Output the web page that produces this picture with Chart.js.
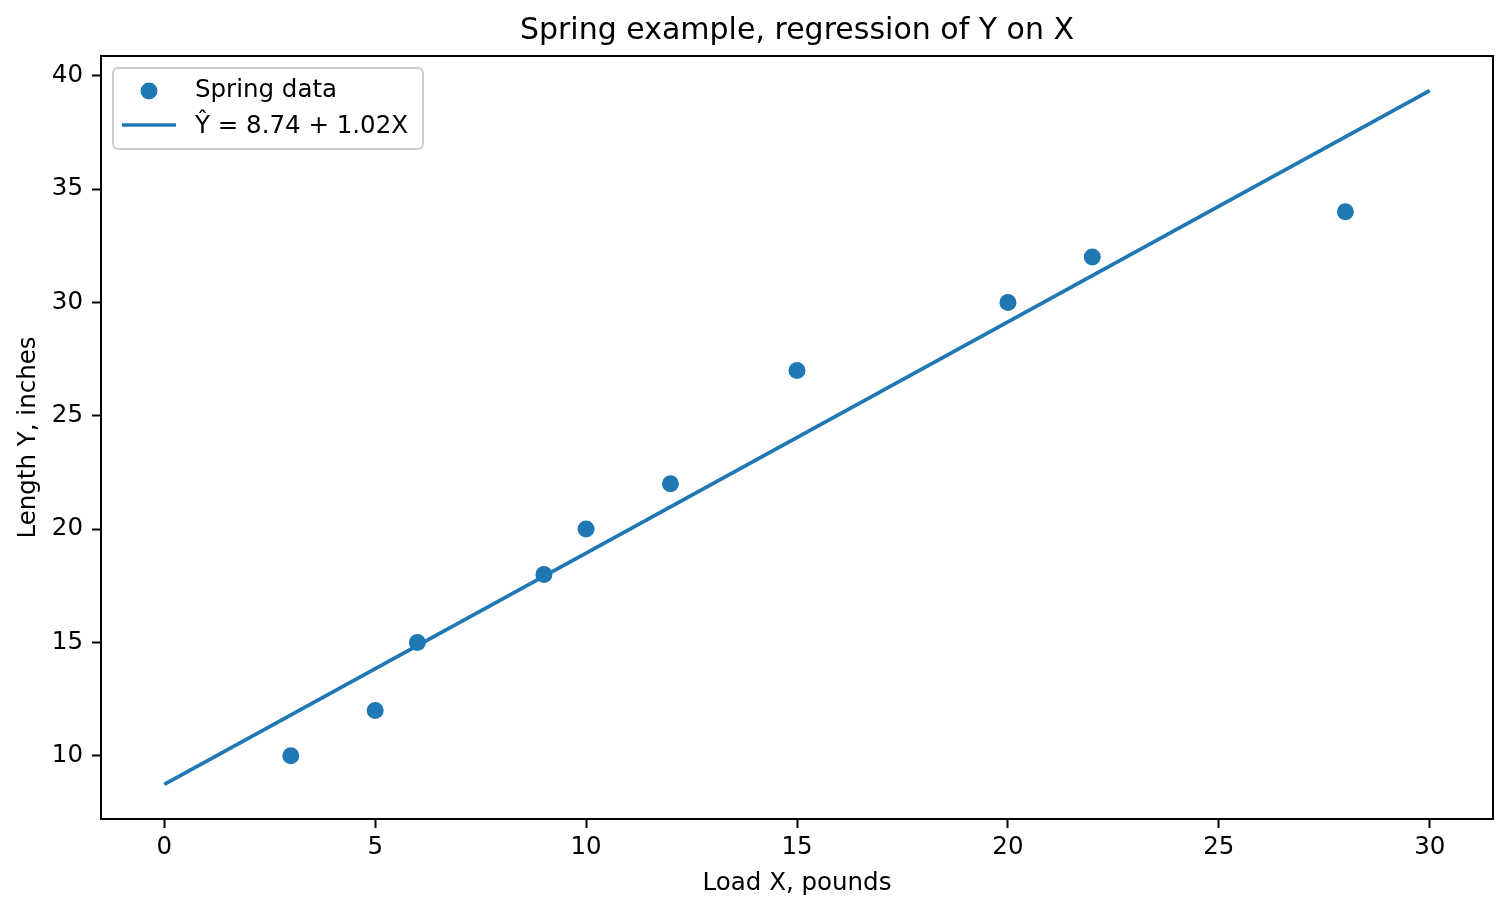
<!DOCTYPE html>
<html>
<head>
<meta charset="utf-8">
<title>Spring example</title>
<script src="https://cdn.jsdelivr.net/npm/chart.js@4.4.1/dist/chart.umd.min.js"></script>
<style>
    html, body { margin: 0; padding: 0; background: #ffffff; }
    #wrap { width: 1510px; height: 913px; }
</style>
</head>
<body>
<div id="wrap"><canvas id="springChart" width="1510" height="913"></canvas></div>
<script>
// =============================================
// Data
// =============================================

var loadX = [3, 5, 6, 9, 10, 12, 15, 20, 22, 28];
var lengthY = [10, 12, 15, 18, 20, 22, 27, 30, 32, 34];

// fitted line end points, Y = 8.74 + 1.02X
var fitX = [0, 30];
var fitY = [8.74, 39.34];

var xTickValues = [0, 5, 10, 15, 20, 25, 30];
var yTickValues = [10, 15, 20, 25, 30, 35, 40];

var chartTitle = "Spring example, regression of Y on X";
var xTitle = "Load X, pounds";
var yTitle = "Length Y, inches";
var scatterLabel = "Spring data";
var fitLabel = "Ŷ = 8.74 + 1.02X";

var blue = "#1f77b4";
var fontFamily = "'DejaVu Sans', sans-serif";

// =============================================
// Helpers
// =============================================

function toPoints(xs, ys) {
    var pts = [];
    for (var i = 0; i < xs.length; i++) {
        pts.push({ x: xs[i], y: ys[i] });
    }
    return pts;
}

function fixedTicks(values) {
    return function(scale) {
        scale.ticks = values.map(function(v) {
            return { value: v };
        });
    };
}

// frame, title and legend drawn the matplotlib way
var framePlugin = {
    id: "frame",
    afterDraw: function(chart) {
        var ctx = chart.ctx;
        var a = chart.chartArea;
        ctx.save();

        // axes box
        ctx.strokeStyle = "#000000";
        ctx.lineWidth = 2;
        ctx.strokeRect(a.left, a.top, a.right - a.left, a.bottom - a.top);

        // title
        ctx.fillStyle = "#000000";
        ctx.font = "30px " + fontFamily;
        ctx.textAlign = "center";
        ctx.textBaseline = "alphabetic";
        ctx.fillText(chartTitle, (a.left + a.right) / 2, 39);

        // legend box
        var bx = 113, by = 68, bw = 310, bh = 81, r = 5;
        ctx.beginPath();
        ctx.moveTo(bx + r, by);
        ctx.arcTo(bx + bw, by, bx + bw, by + bh, r);
        ctx.arcTo(bx + bw, by + bh, bx, by + bh, r);
        ctx.arcTo(bx, by + bh, bx, by, r);
        ctx.arcTo(bx, by, bx + bw, by, r);
        ctx.closePath();
        ctx.fillStyle = "rgba(255,255,255,0.8)";
        ctx.fill();
        ctx.strokeStyle = "#cccccc";
        ctx.lineWidth = 2;
        ctx.stroke();

        // legend marker
        ctx.beginPath();
        ctx.arc(149, 91, 8.5, 0, Math.PI * 2);
        ctx.fillStyle = blue;
        ctx.fill();

        // legend line
        ctx.beginPath();
        ctx.moveTo(122, 125);
        ctx.lineTo(176, 125);
        ctx.strokeStyle = blue;
        ctx.lineWidth = 3.7;
        ctx.stroke();

        // legend labels
        ctx.fillStyle = "#000000";
        ctx.font = "24.5px " + fontFamily;
        ctx.textAlign = "left";
        ctx.fillText(chart.data.datasets[1].label, 195, 97);
        ctx.fillText(chart.data.datasets[0].label, 195, 133);

        ctx.restore();
    }
};

// =============================================
// Chart
// =============================================

Chart.defaults.color = "#000000";
Chart.defaults.font.family = fontFamily;

var tickFont = { family: fontFamily, size: 24.5 };

new Chart(document.getElementById("springChart"), {
    type: "scatter",
    data: {
        datasets: [{
                type: "line",
                label: fitLabel,
                data: toPoints(fitX, fitY),
                borderColor: blue,
                borderWidth: 3.7,
                pointRadius: 0,
                fill: false,
                tension: 0,
            },
            {
                type: "scatter",
                label: scatterLabel,
                data: toPoints(loadX, lengthY),
                backgroundColor: blue,
                borderColor: blue,
                borderWidth: 0,
                pointRadius: 8.5,
                pointHoverRadius: 8.5,
            },
        ],
    },
    options: {
        responsive: false,
        animation: false,
        events: [],
        layout: { padding: { left: 0, right: 17, top: 56, bottom: 0 } },
        plugins: {
            legend: { display: false },
            title: { display: false },
            tooltip: { enabled: false },
        },
        scales: {
            x: {
                type: "linear",
                min: -1.5,
                max: 31.5,
                afterBuildTicks: fixedTicks(xTickValues),
                afterFit: function(scale) {
                    scale.height = 94;
                },
                border: { display: false },
                grid: {
                    drawOnChartArea: false,
                    drawTicks: true,
                    tickLength: 9,
                    tickColor: "#000000",
                    tickWidth: 2,
                },
                ticks: {
                    font: tickFont,
                    color: "#000000",
                    padding: 5,
                    maxRotation: 0,
                },
                title: {
                    display: true,
                    text: xTitle,
                    font: tickFont,
                    color: "#000000",
                    padding: { top: 0, bottom: 15 },
                },
            },
            y: {
                type: "linear",
                min: 7.21,
                max: 40.87,
                afterBuildTicks: fixedTicks(yTickValues),
                afterFit: function(scale) {
                    scale.width = 101;
                },
                border: { display: false },
                grid: {
                    drawOnChartArea: false,
                    drawTicks: true,
                    tickLength: 9,
                    tickColor: "#000000",
                    tickWidth: 2,
                },
                ticks: {
                    font: tickFont,
                    color: "#000000",
                    padding: 9,
                },
                title: {
                    display: true,
                    text: yTitle,
                    font: tickFont,
                    color: "#000000",
                    padding: { top: 14, bottom: 0 },
                },
            },
        },
    },
    plugins: [framePlugin],
});
</script>
</body>
</html>
